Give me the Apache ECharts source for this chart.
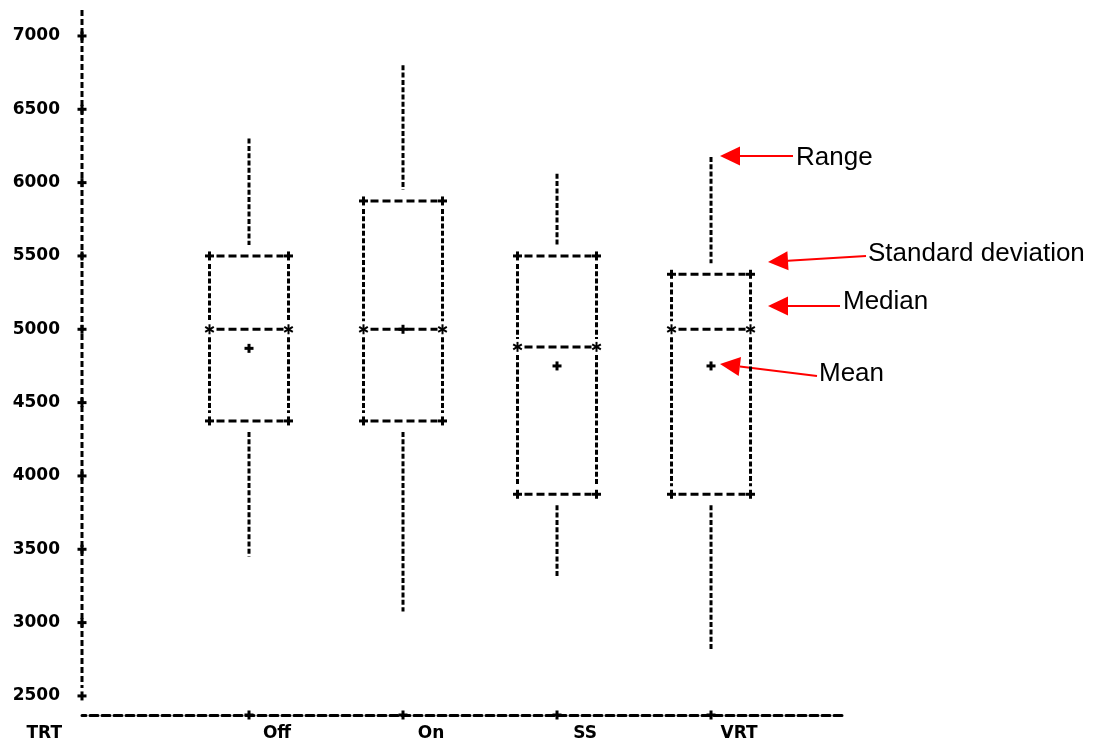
<!DOCTYPE html>
<html>
<head>
<meta charset="utf-8">
<script src="https://cdn.jsdelivr.net/npm/echarts@6/dist/echarts.min.js"></script>
<style>
html,body{margin:0;padding:0;background:#fff;}
#chart{width:1110px;height:746px;}
</style>
</head>
<body>
<div id="chart"></div>
<script>
// ---- data ----
const categories = ['Off', 'On', 'SS', 'VRT'];
const rangeMax   = [6300, 6800, 6060, 6175];
const sdUpper    = [5500, 5875, 5500, 5375];
const medians    = [5000, 5000, 4880, 5000];
const sdLower    = [4375, 4375, 3875, 3875];
const rangeMin   = [3450, 3075, 3310, 2815];
const means      = [4870, 5000, 4750, 4750];
const yTicks     = [2500, 3000, 3500, 4000, 4500, 5000, 5500, 6000, 6500, 7000];
const xAxisName  = 'TRT';
const notes      = ['Range', 'Standard deviation', 'Median', 'Mean'];

// ---- axis extents ----
const X_MIN = -1.0844, X_MAX = 3.870;
const Y_MIN = 2370, Y_MAX = 7177;

const INK = '#000';
const TXT = { fontFamily: 'DejaVu Sans', fontWeight: 'bold', fontSize: 17, color: INK };

function plus(x, y) {
  return [
    { type: 'line', shape: { x1: x - 4.5, y1: y, x2: x + 4.5, y2: y }, style: { stroke: INK, lineWidth: 3 } },
    { type: 'line', shape: { x1: x, y1: y - 4.5, x2: x, y2: y + 4.5 }, style: { stroke: INK, lineWidth: 3 } }
  ];
}
function star(x, y) {
  const r = 5, dx = r * Math.cos(Math.PI / 6), dy = r * Math.sin(Math.PI / 6);
  return [
    { type: 'line', shape: { x1: x, y1: y - r, x2: x, y2: y + r }, style: { stroke: INK, lineWidth: 2 } },
    { type: 'line', shape: { x1: x - dx, y1: y - dy, x2: x + dx, y2: y + dy }, style: { stroke: INK, lineWidth: 2 } },
    { type: 'line', shape: { x1: x - dx, y1: y + dy, x2: x + dx, y2: y - dy }, style: { stroke: INK, lineWidth: 2 } }
  ];
}
function hDash(x1, x2, y) {
  return { type: 'line', shape: { x1: x1, y1: y, x2: x2, y2: y }, style: { stroke: INK, lineWidth: 3, lineDash: [8, 4] } };
}
function vDash(x, y1, y2, pat) {
  return { type: 'line', shape: { x1: x, y1: y1, x2: x, y2: y2 }, style: { stroke: INK, lineWidth: 3, lineDash: pat || [5, 2.3] } };
}

const boxData = categories.map((c, i) => [i, rangeMax[i], sdUpper[i], medians[i], sdLower[i], rangeMin[i], means[i]]);

function renderBox(params, api) {
  const i = api.value(0);
  const pMax = api.coord([i, api.value(1)]);
  const pTop = api.coord([i, api.value(2)]);
  const pMed = api.coord([i, api.value(3)]);
  const pBot = api.coord([i, api.value(4)]);
  const pMin = api.coord([i, api.value(5)]);
  const pMean = api.coord([i, api.value(6)]);
  const bw = api.size([1, 0])[0];
  const hw = bw * 0.2565;
  const cx = pTop[0], xl = cx - hw, xr = cx + hw;
  let ch = [];
  ch.push(vDash(cx, pMax[1], pTop[1] - 11));
  ch.push(vDash(cx, pBot[1] + 11, pMin[1]));
  ch.push(hDash(xl + 7, xr - 5, pTop[1]));
  ch.push(hDash(xl + 7, xr - 5, pBot[1]));
  ch.push(hDash(xl + 7, xr - 5, pMed[1]));
  ch.push(vDash(xl, pTop[1] + 8, pMed[1] - 8));
  ch.push(vDash(xr, pTop[1] + 8, pMed[1] - 8));
  ch.push(vDash(xl, pMed[1] + 8, pBot[1] - 8));
  ch.push(vDash(xr, pMed[1] + 8, pBot[1] - 8));
  ch = ch.concat(plus(xl, pTop[1]), plus(xr, pTop[1]), plus(xl, pBot[1]), plus(xr, pBot[1]));
  ch = ch.concat(star(xl, pMed[1]), star(xr, pMed[1]));
  ch = ch.concat(plus(pMean[0], pMean[1]));
  return { type: 'group', children: ch };
}

function renderYAxis(params, api) {
  const p1 = api.coord([X_MIN, yTicks[0]]);
  const p2 = api.coord([X_MIN, Y_MAX]);
  return { type: 'group', children: [vDash(p1[0], p2[1], p1[1] - 8, [6, 3])] };
}
function renderTick(params, api) {
  const p = api.coord([api.value(0), api.value(1)]);
  return { type: 'group', children: plus(p[0], p[1]) };
}

const chart = echarts.init(document.getElementById('chart'), null, { renderer: 'canvas' });
chart.setOption({
  animation: false,
  backgroundColor: '#fff',
  grid: { left: 82, right: 265, top: 10, bottom: 31 },
  xAxis: {
    type: 'value', min: X_MIN, max: X_MAX,
    name: xAxisName, nameLocation: 'start', nameGap: 20,
    nameTextStyle: Object.assign({}, TXT, { verticalAlign: 'top', padding: [10, 0, 0, 0] }),
    axisLine: { show: true, lineStyle: { color: INK, width: 3, type: [8, 4], dashOffset: 4 } },
    axisTick: { show: false },
    splitLine: { show: false },
    axisLabel: Object.assign({}, TXT, {
      customValues: [0, 1, 2, 3],
      formatter: v => categories[Math.round(v)] || '',
      margin: 10, padding: [0, 0, 0, 56]
    })
  },
  yAxis: {
    type: 'value', min: Y_MIN, max: Y_MAX,
    axisLine: { show: false },
    axisTick: { show: false },
    splitLine: { show: false },
    axisLabel: Object.assign({}, TXT, {
      customValues: yTicks,
      formatter: v => String(v),
      margin: 22
    })
  },
  series: [
    { type: 'custom', name: 'yaxis', data: [[X_MIN, Y_MAX]], renderItem: renderYAxis, silent: true },
    { type: 'custom', name: 'yticks', data: yTicks.map(v => [X_MIN, v]), renderItem: renderTick, silent: true },
    { type: 'custom', name: 'xticks', data: categories.map((c, i) => [i, Y_MIN]), renderItem: renderTick, silent: true },
    { type: 'custom', name: 'boxes', data: boxData, renderItem: renderBox,
      encode: { x: 0, y: [1, 2, 3, 4, 5, 6] }, silent: true }
  ]
});

// ---- annotation arrows ----
const RED = '#f00';
function arrow(tx, ty, ex, ey) {
  const ang = Math.atan2(ey - ty, ex - tx);
  const L = 20, H = 9.5;
  const bx = tx + L * Math.cos(ang), by = ty + L * Math.sin(ang);
  const nx = -Math.sin(ang) * H, ny = Math.cos(ang) * H;
  return [
    { type: 'line', shape: { x1: bx, y1: by, x2: ex, y2: ey }, style: { stroke: RED, lineWidth: 2 } },
    { type: 'polygon', shape: { points: [[tx, ty], [bx + nx, by + ny], [bx - nx, by - ny]] }, style: { fill: RED } }
  ];
}
function note(text, x, y) {
  return { type: 'text', x: x, y: y, style: { text: text, fontFamily: '"Liberation Sans", Arial, sans-serif', fontSize: 26, fill: INK, verticalAlign: 'middle' } };
}
const g = [];
g.push(...arrow(720, 156, 793, 156), note(notes[0], 796, 158));
g.push(...arrow(768, 262, 866, 256), note(notes[1], 868, 254));
g.push(...arrow(768, 306, 840, 306), note(notes[2], 843, 302));
g.push(...arrow(720, 364, 817, 376), note(notes[3], 819, 374));
chart.setOption({ graphic: g });
</script>
</body>
</html>
